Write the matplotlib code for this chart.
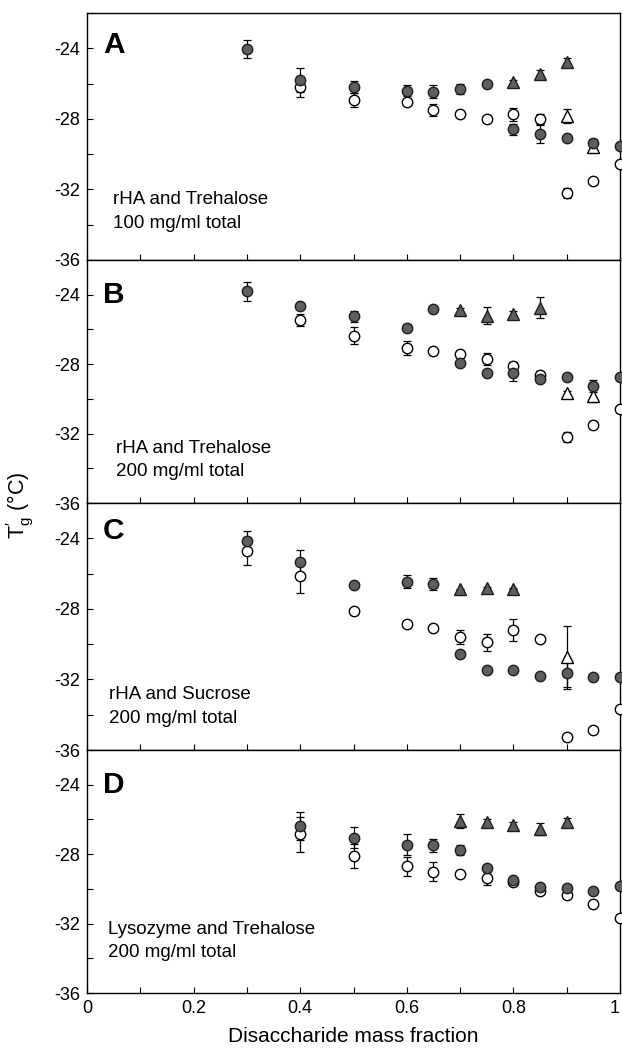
import numpy as np
import matplotlib
matplotlib.use("Agg")
import matplotlib.pyplot as plt
from matplotlib.ticker import MultipleLocator

plt.rcParams['font.family'] = ['Liberation Sans', 'DejaVu Sans']
plt.rcParams['mathtext.fontset'] = 'custom'
plt.rcParams['mathtext.rm'] = 'Liberation Sans'
plt.rcParams['mathtext.it'] = 'Liberation Sans:italic'
plt.rcParams['axes.unicode_minus'] = False

# x positions (disaccharide mass fraction)
x_full = [0.3, 0.4, 0.5, 0.6, 0.65, 0.7, 0.75, 0.8, 0.85, 0.9, 0.95, 1.0]
x_from04 = [0.4, 0.5, 0.6, 0.65, 0.7, 0.75, 0.8, 0.85, 0.9, 0.95, 1.0]

# panel A: rHA + trehalose 100 mg/ml
a_fc_y = [-24.05, -25.8, -26.2, -26.4, -26.45, -26.3, -26.0, -28.6, -28.85, -29.1, -29.35, -29.55]
a_fc_e = [0.5, 0.7, 0.35, 0.3, 0.35, 0.3, 0.15, 0.3, 0.5, 0.15, 0.2, 0.15]
a_oc_y = [-26.2, -26.95, -27.05, -27.5, -27.75, -28.0, -27.75, -28.0, -32.2, -31.55, -30.55]
a_oc_e = [0.55, 0.4, 0.0, 0.35, 0.0, 0.0, 0.35, 0.3, 0.3, 0.0, 0.0]
a_ft_x = [0.8, 0.85, 0.9]
a_ft_y = [-25.9, -25.45, -24.75]
a_ft_e = [0.1, 0.2, 0.2]
a_ot_x = [0.9, 0.95]
a_ot_y = [-27.85, -29.6]
a_ot_e = [0.4, 0.2]

# panel B: rHA + trehalose 200 mg/ml
b_fc_y = [-23.8, -24.65, -25.25, -25.9, -24.85, -27.95, -28.5, -28.5, -28.85, -28.75, -29.25, -28.75]
b_fc_e = [0.55, 0.15, 0.3, 0.2, 0.1, 0.15, 0.15, 0.45, 0.2, 0.15, 0.35, 0.1]
b_oc_y = [-25.45, -26.35, -27.05, -27.25, -27.4, -27.7, -28.1, -28.6, -32.2, -31.5, -30.6]
b_oc_e = [0.35, 0.5, 0.4, 0.0, 0.15, 0.35, 0.2, 0.2, 0.3, 0.2, 0.0]
b_ft_x = [0.7, 0.75, 0.8, 0.85]
b_ft_y = [-24.9, -25.2, -25.1, -24.75]
b_ft_e = [0.15, 0.5, 0.15, 0.6]
b_ot_x = [0.9, 0.95]
b_ot_y = [-29.65, -29.85]
b_ot_e = [0.1, 0.35]

# panel C: rHA + sucrose 200 mg/ml
c_fc_y = [-24.15, -25.35, -26.65, -26.45, -26.6, -30.55, -31.45, -31.45, -31.8, -31.65, -31.85, -31.85]
c_fc_e = [0.55, 0.7, 0.1, 0.35, 0.35, 0.15, 0.1, 0.1, 0.1, 0.8, 0.15, 0.1]
c_oc_y = [-24.7, -26.15, -28.1, -28.85, -29.1, -29.6, -29.9, -29.2, -29.7, -35.25, -34.85, -33.65]
c_oc_e = [0.8, 0.95, 0.0, 0.15, 0.1, 0.4, 0.5, 0.6, 0.0, 0.0, 0.1, 0.0]
c_ft_x = [0.7, 0.75, 0.8]
c_ft_y = [-26.9, -26.8, -26.85]
c_ft_e = [0.05, 0.05, 0.05]
c_ot_x = [0.9]
c_ot_y = [-30.75]
c_ot_e = [1.8]

# panel D: lysozyme + trehalose 200 mg/ml
d_fc_y = [-26.4, -27.05, -27.45, -27.5, -27.75, -28.8, -29.5, -29.9, -29.95, -30.1, -29.85]
d_fc_e = [0.8, 0.6, 0.6, 0.35, 0.3, 0.2, 0.1, 0.15, 0.15, 0.1, 0.1]
d_oc_y = [-26.85, -28.1, -28.7, -29.0, -29.15, -29.4, -29.6, -30.1, -30.35, -30.9, -31.7]
d_oc_e = [1.0, 0.7, 0.55, 0.55, 0.1, 0.4, 0.0, 0.0, 0.0, 0.0, 0.0]
d_ft_x = [0.7, 0.75, 0.8, 0.85, 0.9]
d_ft_y = [-26.1, -26.15, -26.3, -26.55, -26.15]
d_ft_e = [0.4, 0.2, 0.15, 0.35, 0.25]
d_ot_x = []
d_ot_y = []
d_ot_e = []

letters = ['A', 'B', 'C', 'D']
notes = ['rHA and Trehalose\n100 mg/ml total',
         'rHA and Trehalose\n200 mg/ml total',
         'rHA and Sucrose\n200 mg/ml total',
         'Lysozyme and Trehalose\n200 mg/ml total']
xtick_vals = [0, 0.2, 0.4, 0.6, 0.8, 1.0]
xtick_text = ['0', '0.2', '0.4', '0.6', '0.8', '1']

panels = [
    (x_full, a_fc_y, a_fc_e, x_from04, a_oc_y, a_oc_e, a_ft_x, a_ft_y, a_ft_e, a_ot_x, a_ot_y, a_ot_e),
    (x_full, b_fc_y, b_fc_e, x_from04, b_oc_y, b_oc_e, b_ft_x, b_ft_y, b_ft_e, b_ot_x, b_ot_y, b_ot_e),
    (x_full, c_fc_y, c_fc_e, x_full, c_oc_y, c_oc_e, c_ft_x, c_ft_y, c_ft_e, c_ot_x, c_ot_y, c_ot_e),
    (x_from04, d_fc_y, d_fc_e, x_from04, d_oc_y, d_oc_e, d_ft_x, d_ft_y, d_ft_e, d_ot_x, d_ot_y, d_ot_e),
]

# panel extents in pixels (top, bottom) on the 622x1052 figure
W, H = 622, 1052
left, right = 87, 620
bounds = [(13, 260), (260, 503), (503, 750), (750, 993)]
note_x = [0.049, 0.054, 0.042, 0.04]
note_y = [0.13, 0.11, 0.11, 0.148]
letter_y = [0.84, 0.821, 0.856, 0.825]

fill_c = '#5e5e5e'
edge_c = '#1e1e1e'
ms = 7.5

fig = plt.figure(figsize=(W / 100, H / 100), dpi=100)

for i, (top, bot) in enumerate(bounds):
    ax = fig.add_axes([left / W, 1 - bot / H, (right - left) / W, (bot - top) / H])
    (fx, fy, fe, ox, oy, oe, tx, ty, te, otx, oty, ote) = panels[i]

    for xs, ys, es in [(fx, fy, fe), (ox, oy, oe), (tx, ty, te), (otx, oty, ote)]:
        if len(xs):
            ax.errorbar(xs, ys, yerr=es, fmt='none', ecolor='black', elinewidth=0.9,
                        capsize=3.2, capthick=0.9, zorder=2, clip_on=False)

    ax.plot(ox, oy, 'o', ms=ms, mfc='white', mec='black', mew=1.0, zorder=3, clip_on=False)
    ax.plot(fx, fy, 'o', ms=ms, mfc=fill_c, mec=edge_c, mew=1.0, zorder=4, clip_on=False)
    if len(otx):
        ax.plot(otx, oty, '^', ms=ms + 0.5, mfc='white', mec='black', mew=1.0, zorder=3, clip_on=False)
    ax.plot(tx, ty, '^', ms=ms + 0.5, mfc=fill_c, mec=edge_c, mew=1.0, zorder=4, clip_on=False)

    ax.set_xlim(0, 1)
    ax.set_ylim(-36, -22)
    ax.set_yticks([-36, -32, -28, -24])
    ax.yaxis.set_minor_locator(MultipleLocator(2))
    ax.set_xticks(xtick_vals, xtick_text)
    ax.xaxis.set_minor_locator(MultipleLocator(0.1))
    ax.tick_params(which='both', direction='in', length=4, width=0.8,
                   top=False, right=False, labelsize=13, pad=5)
    for s in ax.spines.values():
        s.set_linewidth(1.0)

    if i < 3:
        ax.tick_params(axis='x', labelbottom=False)
    else:
        ax.get_xticklabels()[-1].set_ha('right')
        ax.set_xlabel('Disaccharide mass fraction', fontsize=15, labelpad=7)

    ax.text(0.03, letter_y[i], letters[i], transform=ax.transAxes, fontsize=21.5,
            fontweight='bold', ha='left', va='baseline')
    ax.text(note_x[i], note_y[i], notes[i], transform=ax.transAxes, fontsize=13.5,
            ha='left', va='baseline', linespacing=1.5)

fig.text(0.032, 0.52, r"T$^{\prime}_{\mathrm{g}}$ (°C)", rotation=90, fontsize=15.5,
         ha='center', va='center')

fig.savefig('out.png', dpi=100)
